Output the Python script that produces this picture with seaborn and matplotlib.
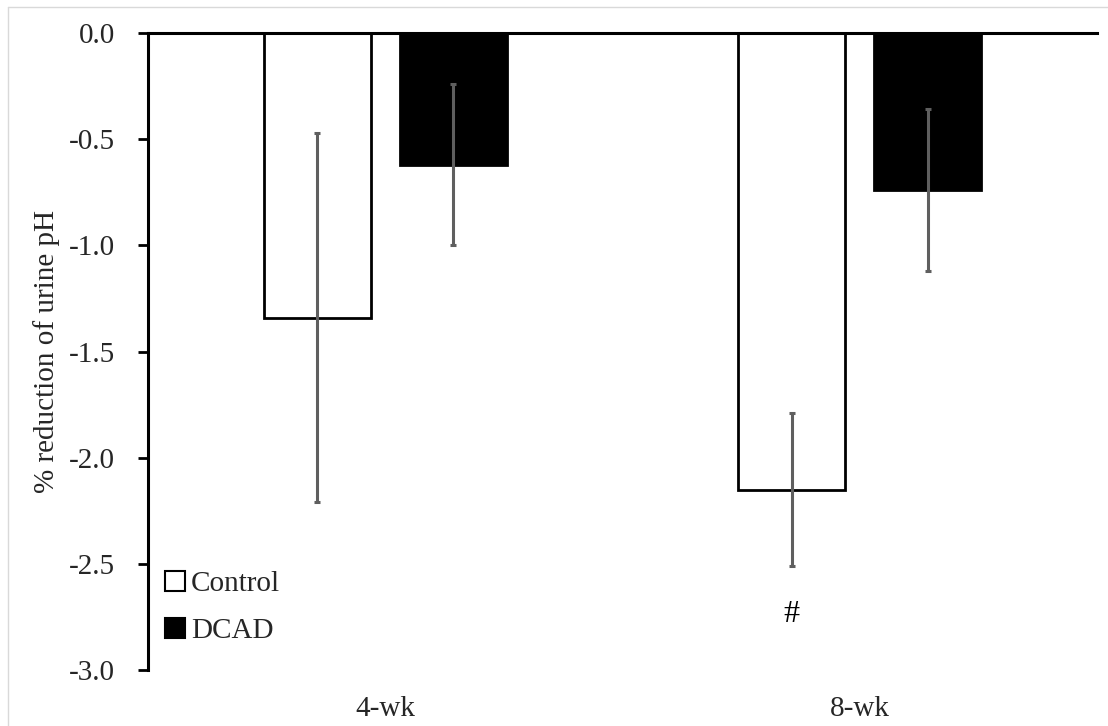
import matplotlib
matplotlib.use("Agg")
import matplotlib.pyplot as plt
from matplotlib.lines import Line2D
import seaborn as sns
import pandas as pd

# --- Data ---
weeks = ["4-wk", "4-wk", "8-wk", "8-wk"]
groups = ["Control", "DCAD", "Control", "DCAD"]
values = [-1.34, -0.62, -2.15, -0.74]
errors = [0.87, 0.38, 0.36, 0.38]

y_ticks = [0.0, -0.5, -1.0, -1.5, -2.0, -2.5, -3.0]
y_label = "% reduction of urine pH"
mark_text = "#"

df = pd.DataFrame({"week": weeks, "group": groups, "value": values, "err": errors})

# --- Style ---
sns.set_style("white")
plt.rcParams["font.family"] = ["Liberation Serif", "DejaVu Serif"]
FS = 21

fig = plt.figure(figsize=(11.08, 7.26), dpi=100)
ax = fig.add_axes([148 / 1108, 1 - 670 / 726, (1097 - 148) / 1108, (670 - 33) / 726])

sns.barplot(
    data=df, x="week", y="value", hue="group",
    palette={"Control": "white", "DCAD": "black"},
    edgecolor="black", linewidth=2.0,
    width=0.573, gap=0.215, errorbar=None, ax=ax,
)

# error bars placed on the bar centres seaborn computed
for container, grp in zip(ax.containers, df["group"].unique()):
    sub = df[df["group"] == grp]
    for bar, (_, row) in zip(container, sub.iterrows()):
        xc = bar.get_x() + bar.get_width() / 2
        ax.errorbar(xc, row["value"], yerr=row["err"], fmt="none",
                    ecolor="#5f5f5f", elinewidth=2.2, capsize=2.5, capthick=2.2, zorder=5)

# significance mark under the 8-wk control bar
ctrl_bars = ax.containers[0]
b8 = ctrl_bars[1]
ax.text(b8.get_x() + b8.get_width() / 2, -2.74, mark_text, ha="center", va="center",
        fontsize=FS + 2, color="black")

# --- Axes ---
ax.set_ylim(-3.0, 0.0)
ax.set_xlim(-0.5, 1.5)
ax.set_yticks(y_ticks)
ax.set_yticklabels([f"{t:.1f}" for t in y_ticks])
ax.set_xlabel("")
ax.set_ylabel(y_label, fontsize=FS)
ax.yaxis.set_label_coords(-88 / 949, 0.5)

ax.tick_params(axis="y", direction="out", length=7, width=2, color="black",
               labelsize=FS, pad=17, left=True)
ax.tick_params(axis="x", length=0, labelsize=FS, pad=18.5)

for side in ["bottom", "right"]:
    ax.spines[side].set_visible(False)
for side in ["top", "left"]:
    ax.spines[side].set_visible(True)
    ax.spines[side].set_color("black")
    ax.spines[side].set_linewidth(2.2)

leg = ax.legend(loc="lower left", bbox_to_anchor=(0.018, 0.041), frameon=False,
                fontsize=FS, handlelength=0.69, handleheight=0.69, handletextpad=0.2,
                labelspacing=0.69, borderaxespad=0, borderpad=0)
for h in leg.legend_handles:
    h.set_edgecolor("black")
    h.set_linewidth(1.5)

# light frame like the exported picture
fig.add_artist(Line2D([8 / 1108, 8 / 1108], [0, 1 - 7 / 726], transform=fig.transFigure,
                      color="#d9d9d9", lw=1))
fig.add_artist(Line2D([8 / 1108, 1], [1 - 7 / 726, 1 - 7 / 726], transform=fig.transFigure,
                      color="#d9d9d9", lw=1))

fig.savefig("out.png", dpi=100, facecolor="white")
